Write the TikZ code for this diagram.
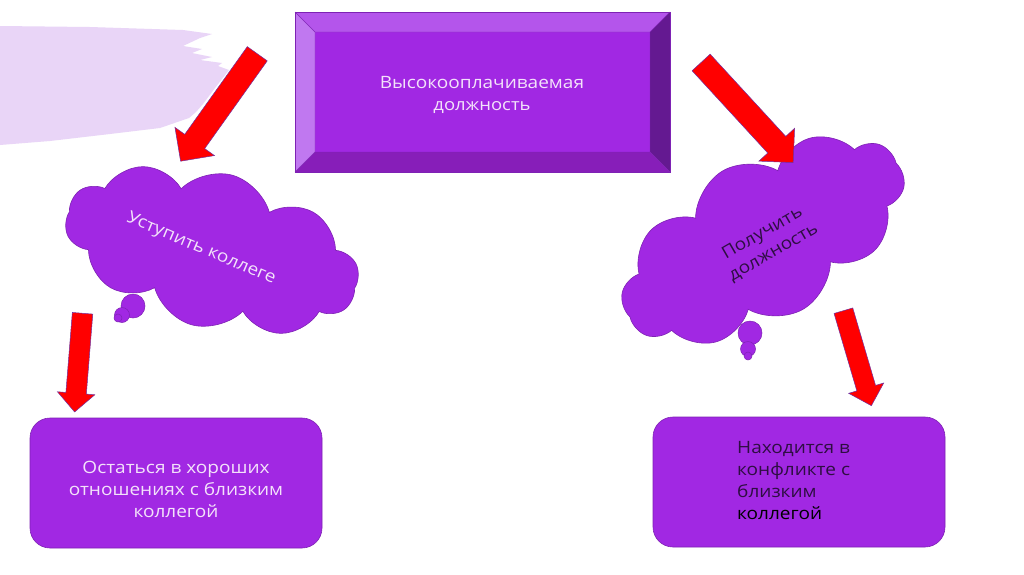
\documentclass[tikz,border=0pt]{standalone}
\usepackage{fontspec}
\setmainfont{Open Sans}[FakeStretch=1.12]
\usetikzlibrary{shapes.symbols,shapes.arrows}
\definecolor{vio}{HTML}{A128E3}
\definecolor{vioedge}{HTML}{7E22B4}
\definecolor{bevtop}{HTML}{B455EB}
\definecolor{bevleft}{HTML}{C078F0}
\definecolor{bevright}{HTML}{641991}
\definecolor{bevbot}{HTML}{871EB9}
\definecolor{pale}{HTML}{E9D5F7}
\definecolor{lighttext}{HTML}{F3E2FA}
\definecolor{darktext}{HTML}{2E0E42}
\definecolor{arrowedge}{HTML}{7030A0}
\begin{document}
\begin{tikzpicture}[x=1pt,y=-1pt,
  redarrow/.style={single arrow, draw=arrowedge, fill=red, line width=0.5pt,
    inner xsep=0pt, single arrow tip angle=90, single arrow head indent=0pt},
  thought/.style={cloud, cloud puffs=10, cloud puff arc=120, fill=vio, draw=vioedge, line width=0.6pt, inner sep=0pt},
  bubble/.style={circle, fill=vio, draw=vioedge, line width=0.5pt, inner sep=0pt},
  roundbox/.style={rectangle, rounded corners=20pt, fill=vio, draw=vioedge, line width=0.6pt,
    minimum width=292pt, minimum height=130pt},
  lbl/.style={font=\fontsize{17}{22}\selectfont, inner sep=0pt}]
\useasboundingbox (0,0) rectangle (1024,574);
\fill[white] (0,0) rectangle (1024,574);

% pale brush stroke
\fill[pale] (0,26) -- (90,27) -- (183,30) -- (212,34) -- (200,38) -- (183,46) -- (202,49) -- (192,53)
  -- (212,57) -- (200,60) -- (222,63) -- (218,66) -- (229,70) -- (215,88) -- (203,104) -- (196,112)
  -- (189,118) -- (160,128) -- (110,134) -- (50,141) -- (0,145) -- cycle;

% top bevelled box
\coordinate (o1) at (295,12); \coordinate (o2) at (670,12);
\coordinate (o3) at (670,172); \coordinate (o4) at (295,172);
\coordinate (i1) at (315,32); \coordinate (i2) at (650,32);
\coordinate (i3) at (650,152); \coordinate (i4) at (315,152);
\fill[vio] (i1) rectangle (i3);
\fill[bevtop] (o1) -- (o2) -- (i2) -- (i1) -- cycle;
\fill[bevright] (o2) -- (o3) -- (i3) -- (i2) -- cycle;
\fill[bevbot] (o3) -- (o4) -- (i4) -- (i3) -- cycle;
\fill[bevleft] (o4) -- (o1) -- (i1) -- (i4) -- cycle;
\draw[vioedge, line width=0.4pt] (o1) -- (i1) (o2) -- (i2) (o3) -- (i3) (o4) -- (i4) (i1) rectangle (i3);
\draw[vioedge, line width=0.8pt] (o1) rectangle (o3);
\node[lbl, text=lighttext, align=center] (top) at (482,95)
  {Высокооплачиваемая\\[0pt]{\fontsize{16.5}{20}\selectfont должность}};

% clouds
\node[thought, minimum width=300pt, minimum height=155pt, rotate=-15] (cl) at (212,250) {};
\node[bubble, minimum size=24pt] (cl1) at (133,306) {};
\node[bubble, minimum size=15pt] (cl2) at (122,315) {};
\node[bubble, minimum size=8pt] (cl3) at (118,318) {};
\node[lbl, text=lighttext, rotate=-23] (clt) at (201,249) {Уступить коллеге};

\node[thought, minimum width=312pt, minimum height=160pt, rotate=30] (cr) at (763,240) {};
\node[bubble, minimum size=24pt] (cr1) at (750,333) {};
\node[bubble, minimum size=15pt] (cr2) at (748,349) {};
\node[bubble, minimum size=8pt] (cr3) at (748,356) {};
\node[lbl, text=darktext, rotate=30, align=center] (crt) at (768,243) {Получить\\должность};

% bottom boxes
\node[roundbox] (bl) at (176,483) {};
\node[lbl, text=lighttext, align=center] (blt) at (176,489)
  {Остаться в хороших\\отношениях с близким\\коллегой};
\node[roundbox] (br) at (799,482) {};
\node[lbl, text=darktext, align=left, anchor=north west] (brt) at (737,441)
  {Находится в\\конфликте с\\близким\\\textcolor{black}{коллегой}};

% arrows
\node[redarrow, inner ysep=12pt, minimum height=132pt, minimum width=48pt, single arrow head extend=12pt, rotate=234.5] (a1) at (222.5,102.5) {};
\node[redarrow, inner ysep=12pt, minimum height=136pt, minimum width=48pt, single arrow head extend=12pt, rotate=-47.4] (a2) at (743,108) {};
\node[redarrow, inner ysep=10pt, minimum height=99pt, minimum width=37pt, single arrow head extend=8.5pt, rotate=-94.6] (a3) at (79,357.5) {};
\node[redarrow, inner ysep=9.5pt, minimum height=99pt, minimum width=36pt, single arrow head extend=8.5pt, rotate=-73.6] (a4) at (856,353.5) {};
\end{tikzpicture}
\end{document}
